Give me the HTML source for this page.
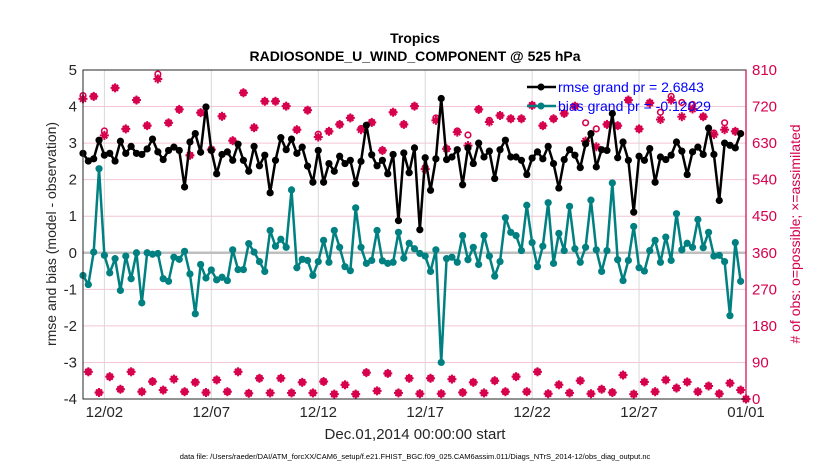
<!DOCTYPE html>
<html><head><meta charset="utf-8"><style>
body{margin:0;background:#fff;}
svg{display:block;font-family:"Liberation Sans",Arial,sans-serif;}
</style></head><body>
<svg id="chart" width="830" height="470" viewBox="0 0 830 470">
<text x="415" y="43" text-anchor="middle" font-size="14" font-weight="bold" fill="#000">Tropics</text>
<text x="415" y="61" text-anchor="middle" font-size="14" font-weight="bold" fill="#000">RADIOSONDE_U_WIND_COMPONENT @ 525 hPa</text>
<g id="grid"></g>
<g id="marks"></g>
<g id="axes"></g>
<text transform="translate(56,234) rotate(-90)" text-anchor="middle" font-size="14" fill="#262626">rmse and bias (model - observation)</text>
<text transform="translate(800,234) rotate(-90)" text-anchor="middle" font-size="14" fill="#d6004c"># of obs: o=possible; ×=assimilated</text>
<text x="415" y="439" text-anchor="middle" font-size="15" fill="#262626">Dec.01,2014 00:00:00 start</text>
<text x="415" y="459" text-anchor="middle" font-size="7.5" fill="#000">data file: /Users/raeder/DAI/ATM_forcXX/CAM6_setup/f.e21.FHIST_BGC.f09_025.CAM6assim.011/Diags_NTrS_2014-12/obs_diag_output.nc</text>
<g>
<line x1="527" y1="87" x2="556" y2="87" stroke="#000" stroke-width="2.5"/>
<circle cx="541" cy="87" r="3.5" fill="#000"/>
<text x="558" y="92" font-size="14" fill="#0000ff">rmse grand pr = 2.6843</text>
<line x1="527" y1="106" x2="556" y2="106" stroke="#008080" stroke-width="2.5"/>
<circle cx="541" cy="106" r="3.5" fill="#008080"/>
<text x="558" y="111" font-size="14" fill="#0000ff">bias grand pr = -0.12029</text>
</g>
</svg>
<script>
const rmse=[2.72,2.51,2.57,3.08,2.67,2.72,2.51,3.05,2.72,2.91,2.72,2.69,2.84,3.11,2.76,2.55,2.80,2.89,2.80,1.80,3.03,3.26,2.75,3.99,2.80,2.16,2.69,2.76,2.53,2.97,2.53,2.23,2.91,2.38,2.67,1.64,2.53,3.15,2.82,3.11,2.72,2.89,2.37,1.93,2.80,1.93,2.44,2.23,2.64,2.44,2.53,1.89,2.50,3.49,2.68,2.38,2.53,2.16,2.69,0.88,2.73,2.19,2.87,0.63,2.60,1.71,2.57,4.22,2.55,2.62,2.82,1.86,2.87,2.44,3.00,2.62,2.78,2.03,2.82,3.08,2.62,2.62,2.53,2.14,2.59,2.76,2.57,2.91,2.44,1.77,2.55,2.82,2.67,2.33,2.98,3.26,2.35,2.82,2.80,3.81,2.60,3.03,2.53,1.11,2.64,2.53,2.85,1.93,2.62,2.55,2.67,3.03,2.78,2.14,2.76,2.89,2.69,3.41,2.69,1.43,3.00,2.94,2.87,3.26];
const bias=[-0.62,-0.87,0.02,2.30,-0.07,-0.55,-0.16,-1.03,-0.09,-0.71,0.00,-1.37,0.00,-0.04,-0.02,-0.71,-0.78,-0.12,-0.18,0.04,-0.58,-1.67,-0.32,-0.69,-0.47,-0.74,-0.67,-0.76,0.08,-0.46,-0.46,0.25,0.02,-0.24,-0.51,0.61,0.18,0.37,0.15,1.72,-0.41,-0.18,-0.21,-0.62,-0.24,0.34,-0.26,0.61,0.15,-0.38,-0.49,1.23,0.15,-0.29,-0.21,0.61,-0.22,-0.29,-0.26,0.56,-0.15,0.26,0.11,-0.02,-0.09,-0.51,0.08,-3.00,-0.16,-0.12,-0.26,0.47,-0.19,0.15,-0.32,0.47,-0.09,-0.64,-0.24,0.96,0.56,0.47,0.06,1.30,0.28,-0.38,0.18,1.37,-0.29,0.53,0.06,1.27,0.11,-0.26,0.15,1.44,0.08,-0.51,0.06,1.91,-0.19,-0.76,-0.21,0.72,-0.41,-0.50,0.06,0.34,-0.26,0.43,-0.21,1.07,0.08,0.26,0.15,0.91,0.14,0.56,-0.09,-0.07,-0.24,-1.72,0.28,-0.78];
const nAssim=[739,67,745,16,649,55,766,24,665,67,736,18,673,43,788,22,680,49,713,18,600,41,705,16,614,47,696,18,636,67,754,14,668,51,733,15,733,51,721,15,663,41,711,15,645,43,659,12,676,35,692,12,663,65,681,20,612,63,706,15,676,51,721,13,566,51,686,13,616,49,657,16,624,41,713,15,682,45,698,18,690,55,690,18,723,67,673,13,690,35,703,15,721,45,635,13,621,24,676,16,673,59,736,12,665,42,729,18,688,47,736,27,695,42,714,18,695,32,651,13,663,39,659,22,0];
const nPoss=[747,67,745,16,660,55,766,24,665,67,736,18,673,43,800,22,680,49,713,18,600,41,705,16,614,47,696,18,636,67,754,14,668,51,733,15,733,51,721,15,663,41,711,15,652,43,659,12,676,35,692,12,666,65,681,20,612,63,706,15,676,51,721,13,570,51,692,13,616,49,660,16,650,41,713,15,686,45,698,18,690,55,690,18,723,67,673,13,690,35,703,15,721,45,680,13,665,24,676,16,673,59,736,12,665,42,729,18,706,47,745,27,730,42,725,18,695,32,655,13,680,39,659,22,0];
const leftTicks=[5,4,3,2,1,0,-1,-2,-3,-4];
const rightTicks=[810,720,630,540,450,360,270,180,90,0];
const xTickDays=[1,6,11,16,21,26,31];
const xTickLabels=["12/02","12/07","12/12","12/17","12/22","12/27","01/01"];

const X0=83,X1=746,Y0=70,Y1=399,NS="http://www.w3.org/2000/svg";
const xDay=d=>X0+(X1-X0)*d/31;
const xIdx=i=>xDay(i*0.25);
const yL=v=>Y1-(v+4)/9*(Y1-Y0);
const yR=c=>yL(c/90-4);
function mk(tag,attrs,parent){const e=document.createElementNS(NS,tag);for(const k in attrs)e.setAttribute(k,attrs[k]);parent.appendChild(e);return e;}
const grid=document.getElementById('grid'),marks=document.getElementById('marks'),axes=document.getElementById('axes');

leftTicks.forEach(v=>{
  if(v>-4&&v<5){const l=mk('line',{x1:X0,x2:X1,y1:yL(v),y2:yL(v),stroke:'#f2c6d6','stroke-width':1},grid);
  
  }
  const t=mk('text',{x:X0-6,y:yL(v)+5,'text-anchor':'end','font-size':15,fill:'#262626'},axes);t.textContent=v;
  
  
});
rightTicks.forEach(c=>{
  const t=mk('text',{x:X1+6,y:yR(c)+5,'font-size':15,fill:'#d6004c'},axes);t.textContent=c;
  
  
});
xTickDays.forEach((d,k)=>{
  if(d<31){const l=mk('line',{x1:xDay(d),x2:xDay(d),y1:Y0,y2:Y1,stroke:'#d9d9d9','stroke-width':1},grid);
  
  }
  const t=mk('text',{x:xDay(d),y:417,'text-anchor':'middle','font-size':15,fill:'#262626'},axes);t.textContent=xTickLabels[k];
  
  
});
const zl=mk('line',{x1:X0,x2:X1,y1:yL(0),y2:yL(0),stroke:'#bfbfbf','stroke-width':2.5},grid);



nAssim.forEach((c,i)=>{
  const x=xIdx(i),y=yR(c);
  const g=mk('g',{stroke:'#d6004c','stroke-width':2},marks);
  
  
  mk('line',{x1:x-4.5,x2:x+4.5,y1:y,y2:y},g);
  mk('line',{x1:x,x2:x,y1:y-4.5,y2:y+4.5},g);
  mk('line',{x1:x-3,x2:x+3,y1:y-3,y2:y+3},g);
  mk('line',{x1:x-3,x2:x+3,y1:y+3,y2:y-3},g);
  mk('circle',{cx:x,cy:y,r:2.5,fill:'#d6004c',stroke:'none'},g);
});
nPoss.forEach((c,i)=>{
  const o=mk('circle',{cx:xIdx(i),cy:yR(c),r:2.8,fill:'none',stroke:'#d6004c','stroke-width':1.6},marks);
  
  
});
function series(vals,color,name){
  const p=mk('polyline',{points:vals.map((v,i)=>xIdx(i)+','+yL(v)).join(' '),fill:'none',stroke:color,'stroke-width':2.5,'stroke-linejoin':'round'},marks);
  
  
  vals.forEach((v,i)=>{
    const c=mk('circle',{cx:xIdx(i),cy:yL(v),r:3.6,fill:color},marks);
    
    
  });
}
series(bias,'#008080','bias');
series(rmse,'#000','rmse');

const f=mk('rect',{x:X0,y:Y0,width:X1-X0,height:Y1-Y0,fill:'none',stroke:'#262626','stroke-width':1},axes);


const ra=mk('line',{x1:X1,x2:X1,y1:Y0,y2:Y1,stroke:'#d6004c','stroke-width':1.2},axes);


</script>
</body></html>
